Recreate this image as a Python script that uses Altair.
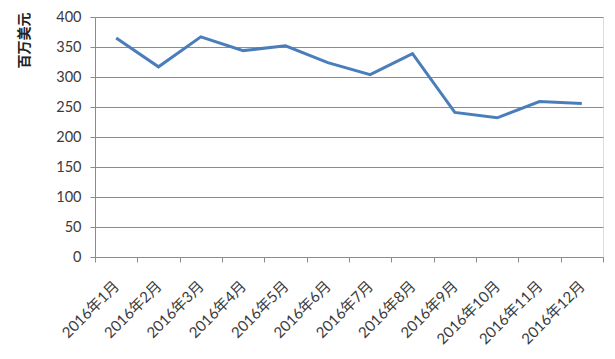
import altair as alt
import pandas as pd

months = ["2016年1月", "2016年2月", "2016年3月", "2016年4月", "2016年5月", "2016年6月",
          "2016年7月", "2016年8月", "2016年9月", "2016年10月", "2016年11月", "2016年12月"]
values = [365, 317, 367, 344, 352, 324, 304, 339, 241, 232, 259, 256]

df = pd.DataFrame({"month": months, "value": values})

FONT = "Lato, Noto Sans CJK SC, sans-serif"

chart = alt.Chart(df).mark_line(color="#4a7ebb", strokeWidth=3).encode(
    x=alt.X("month:N", sort=months, title=None,
            scale=alt.Scale(paddingInner=0, paddingOuter=0),
            axis=alt.Axis(labelAngle=-45, labelAlign="right", labelBaseline="middle",
                          labelPadding=21, tickBand="extent", tickSize=5,
                          domainColor="#8c8c8c", tickColor="#8c8c8c",
                          labelFont=FONT, labelFontSize=15, labelColor="#3a3a3a",
                          grid=False)),
    y=alt.Y("value:Q", title="百万美元",
            scale=alt.Scale(domain=[0, 400], nice=False),
            axis=alt.Axis(values=list(range(0, 401, 50)), tickSize=5,
                          labelPadding=9, labelFont=FONT, labelFontSize=14.5,
                          labelColor="#3a3a3a",
                          domainColor="#8c8c8c", tickColor="#8c8c8c",
                          gridColor="#8c8c8c", gridWidth=1,
                          titleFont=FONT, titleFontSize=14, titleFontWeight="bold",
                          titleColor="#222222", titleAngle=-90, titleAlign="right",
                          titleBaseline="middle", titleX=-71, titleY=-5)),
).properties(
    width=508, height=240,
    autosize=alt.AutoSizeParams(type="none"),
    padding={"left": 87, "top": 9, "right": 4, "bottom": 90},
).configure_view(stroke=None).configure(background="white")

chart.save("out.html", embed_options={"renderer": "svg", "actions": False})
